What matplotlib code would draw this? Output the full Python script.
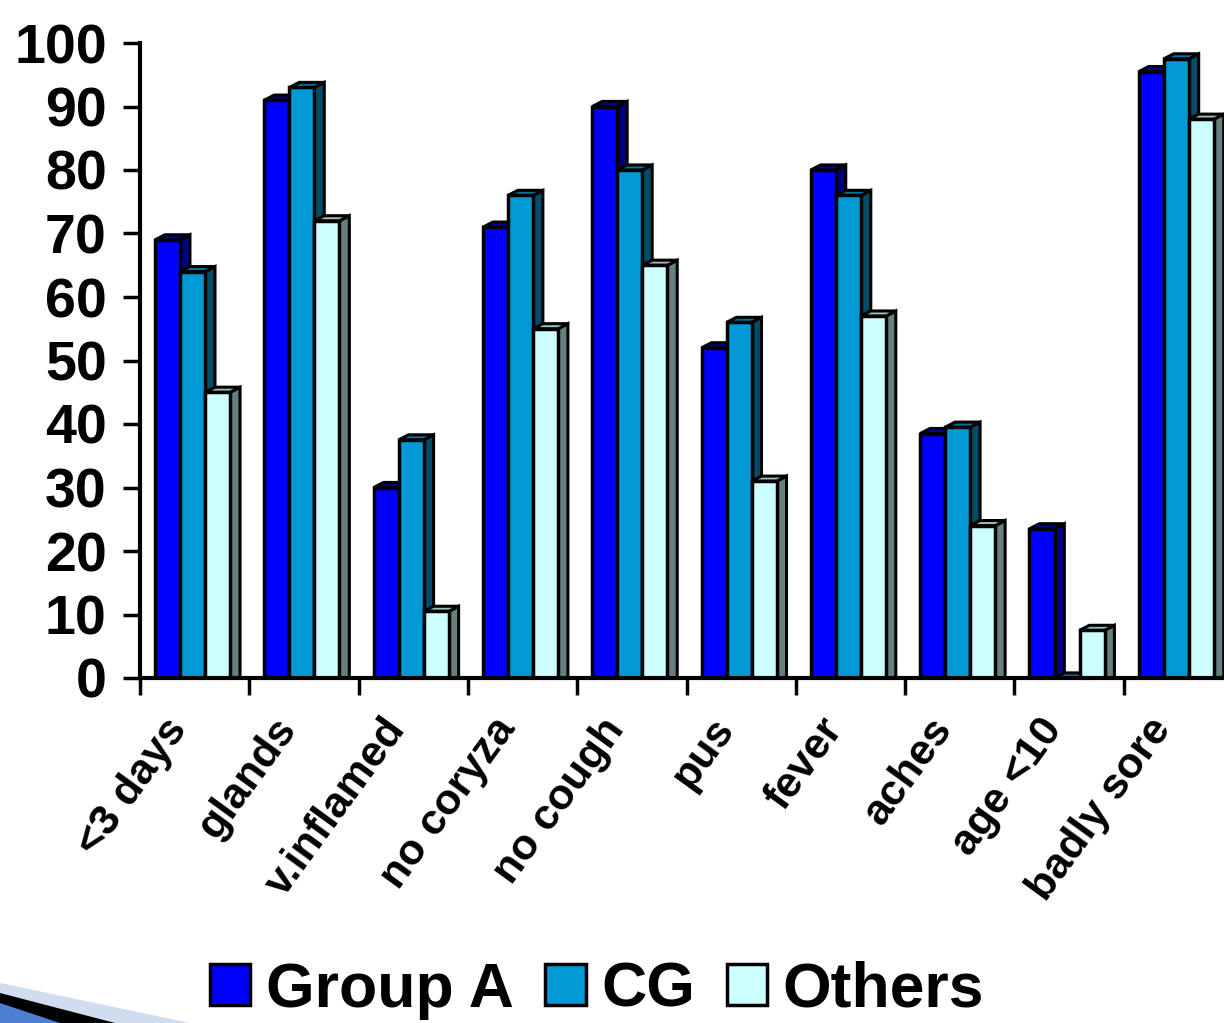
import matplotlib.pyplot as plt
from matplotlib.patches import Polygon, Patch
import numpy as np

plt.rcParams['font.family'] = ['Liberation Sans', 'DejaVu Sans']
plt.rcParams['font.weight'] = 'bold'

categories = ['<3 days', 'glands', 'v.inflamed', 'no coryza', 'no cough',
              'pus', 'fever', 'aches', 'age <10', 'badly sore']
group_a = [69, 91, 30, 71, 90, 52, 80, 38.5, 23.5, 95.5]
cg = [64, 93, 37.5, 76, 80, 56, 76, 39.5, 0, 97.5]
others = [45, 72, 10.5, 55, 65, 31, 57, 24, 7.5, 88]
series_names = ['Group A', 'CG', 'Others']

# front, side, top colours per series
front_cols = ['#0000FF', '#0099D6', '#CCFFFF']
side_cols = ['#000080', '#004C6B', '#668080']
top_cols = ['#00009A', '#00749F', '#99C0C0']

W, H = 1224, 1023
fig = plt.figure(figsize=(W / 100, H / 100), dpi=100)
ax = fig.add_axes([140 / W, (H - 678) / H, 1093 / W, 635 / H])

x = np.arange(len(categories))
width = 0.229
start = 0.138
dx, dy = 0.09, 0.8

for s, vals in enumerate([group_a, cg, others]):
    for i, v in enumerate(vals):
        x0 = i + start + s * width
        x1 = x0 + width
        side = Polygon([(x1, 0), (x1 + dx, 0), (x1 + dx, v + dy), (x1, v)],
                       closed=True, facecolor=side_cols[s], edgecolor='black',
                       lw=2.2, zorder=2 + s * 2, clip_on=False)
        top = Polygon([(x0, v), (x1, v), (x1 + dx, v + dy), (x0 + dx, v + dy)],
                      closed=True, facecolor=top_cols[s], edgecolor='black',
                      lw=2.2, zorder=2 + s * 2, clip_on=False)
        ax.add_patch(side)
        ax.add_patch(top)
    ax.bar(x + start + s * width, vals, width, align='edge',
           color=front_cols[s], edgecolor='black', lw=2.5, zorder=3 + s * 2)

ax.set_xlim(0, 10)
ax.set_ylim(0, 100)
ax.set_yticks(range(0, 101, 10))
ax.set_xticks(range(0, 11))
ax.set_xticklabels([])
ax.tick_params(axis='y', length=12, width=2.5, labelsize=40, pad=12)
ax.tick_params(axis='x', length=12, width=2.5)
for lab in ax.get_yticklabels():
    lab.set_fontweight('bold')
for sp in ['top', 'right']:
    ax.spines[sp].set_visible(False)
ax.spines['left'].set_linewidth(3)
ax.spines['bottom'].set_linewidth(3)
ax.spines['bottom'].set_zorder(20)

for i, c in enumerate(categories):
    ax.text(i + 0.36, -7, c, rotation=54, rotation_mode='anchor',
            ha='right', va='center', fontsize=31, fontweight='bold')

handles = [Patch(facecolor=front_cols[k], edgecolor='black', lw=2.5)
           for k in range(3)]
fig.legend(handles, series_names, loc='center', bbox_to_anchor=(597 / W, 1 - 990 / H),
           ncol=3, frameon=False, handlelength=0.65,
           handleheight=0.65, handletextpad=0.25, columnspacing=0.5,
           prop={'weight': 'bold', 'size': 45})

# slide decoration in the lower left corner
fig.patches.append(Polygon([(0, 1 - 983 / H), (190 / W, 0), (0, 0)], closed=True,
                           transform=fig.transFigure, facecolor='#D0DCF0', zorder=0))
fig.patches.append(Polygon([(0, 1 - 993 / H), (115 / W, 0), (0, 0)], closed=True,
                           transform=fig.transFigure, facecolor='black', zorder=0))
fig.patches.append(Polygon([(0, 1 - 1003 / H), (60 / W, 0), (0, 0)], closed=True,
                           transform=fig.transFigure, facecolor='#4A7FD0', zorder=0))

fig.savefig('out.png', dpi=100)
